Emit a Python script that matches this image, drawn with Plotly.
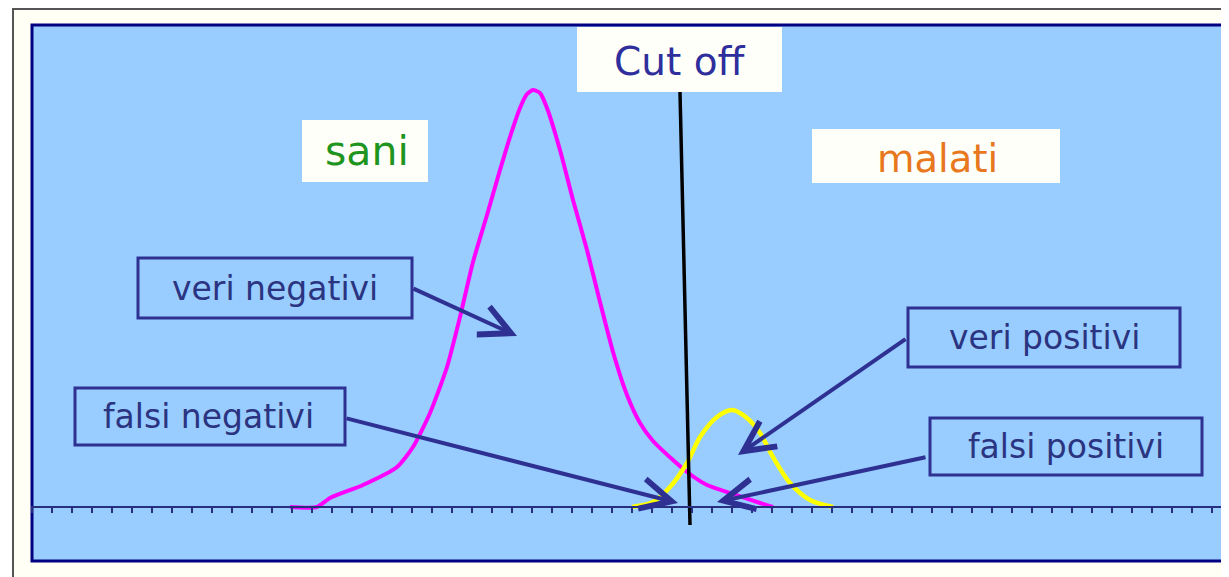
import plotly.graph_objects as go

# page has an 8px body margin; the figure is sized so that it fills the window
OFF = 8
W, H = 1229 - OFF, 577 - OFF

# ---------------- data ----------------
healthy_x = [12.9, 14.25, 14.9, 16.55, 18.25, 19.05, 19.9, 20.75, 21.4, 22.05,
             22.75, 23.4, 23.9, 24.4, 24.75, 25.05, 25.4, 25.75, 26.4, 27.05,
             27.75, 28.4, 29.05, 29.75, 30.4, 31.05, 32.05, 32.75, 33.75, 35.05,
             36.4, 37.05]
healthy_y = [0, 0, 2.25, 5.5, 10, 15, 23.5, 35, 47.5, 61.25,
             73, 84.25, 92.5, 99.75, 103.25, 104.25, 103.5, 99.75, 89.25, 76.75,
             64.25, 51.25, 38.75, 28, 21, 16.5, 11.75, 8.75, 5.5, 3.25,
             1, 0]

sick_x = [30, 31.05, 31.9, 32.75, 33.4, 34.25, 35, 35.75, 36.4, 37.05, 37.9, 38.9, 40.05]
sick_y = [0, 1.25, 5, 11, 17.5, 22.5, 24.25, 22.25, 18.5, 12.5, 6, 1.75, 0]

cutoff_x = [32.4, 32.9]
cutoff_y = [103.75, -4.5]

group_labels = ["sani", "malati"]
outcome_labels = ["veri negativi", "falsi negativi", "veri positivi", "falsi positivi"]
cutoff_label = "Cut off"

# ---------------- helpers (screen pixel -> coordinates) ----------------
X0_PX, PX_PER_X = 32, 20.0
Y0_PX, PX_PER_Y = 507, 4.0


def dx(px):
    return (px - X0_PX) / PX_PER_X


def dy(py):
    return (Y0_PX - py) / PX_PER_Y


def pxp(px):
    return (px - OFF) / W


def pyp(py):
    return 1 - (py - OFF) / H


NAVY = "#2e3192"
TEXT_NAVY = "#2b3480"
FONT = "DejaVu Sans"

fig = go.Figure()

fig.add_trace(go.Scatter(x=healthy_x, y=healthy_y, mode="lines",
                         line=dict(color="#ff00ff", width=4, shape="spline", smoothing=0.6),
                         hoverinfo="skip", showlegend=False))
fig.add_trace(go.Scatter(x=sick_x, y=sick_y, mode="lines",
                         line=dict(color="#ffff00", width=4.5, shape="spline", smoothing=0.8),
                         hoverinfo="skip", showlegend=False))
fig.add_trace(go.Scatter(x=cutoff_x, y=cutoff_y, mode="lines",
                         line=dict(color="#000000", width=3.5),
                         hoverinfo="skip", showlegend=False))
# dummy trace so the tick axis (x2) is drawn
fig.add_trace(go.Scatter(x=[None], y=[None], xaxis="x2", yaxis="y",
                         mode="markers", hoverinfo="skip", showlegend=False))

shapes = []
# outer frame
shapes.append(dict(type="rect", xref="paper", yref="paper",
                   x0=pxp(13), x1=pxp(1240), y0=pyp(590), y1=pyp(9),
                   line=dict(color="#555555", width=2), fillcolor="#fffff6", layer="below"))
# blue panel
shapes.append(dict(type="rect", xref="paper", yref="paper",
                   x0=pxp(32), x1=pxp(1245), y0=pyp(561), y1=pyp(25),
                   line=dict(color="#000080", width=3), fillcolor="#99ccff", layer="below"))

# white boxes
white_boxes = [
    ((577, 27, 782, 92), cutoff_label, (679, 62), 39, "#2e2e9c"),
    ((302, 120, 428, 182), group_labels[0], (367, 151), 41, "#1f951f"),
    ((812, 129, 1060, 183), group_labels[1], (937, 158), 38.5, "#e8781e"),
]
annotations = []
for (x0, y0, x1, y1), txt, (cx, cy), size, col in white_boxes:
    shapes.append(dict(type="rect", xref="paper", yref="paper",
                       x0=pxp(x0), x1=pxp(x1), y0=pyp(y1), y1=pyp(y0),
                       line=dict(width=0), fillcolor="#fffffa", layer="above"))
    annotations.append(dict(x=pxp(cx), y=pyp(cy), xref="paper", yref="paper",
                            text=txt, showarrow=False, xanchor="center", yanchor="middle",
                            font=dict(family=FONT, size=size, color=col)))

# outlined boxes
outline_boxes = [
    ((138, 258, 412, 318), outcome_labels[0], (275, 288)),
    ((75, 388, 345, 445), outcome_labels[1], (208, 416)),
    ((908, 308, 1180, 367), outcome_labels[2], (1044, 337)),
    ((930, 418, 1202, 475), outcome_labels[3], (1066, 446)),
]
for (x0, y0, x1, y1), txt, (cx, cy) in outline_boxes:
    shapes.append(dict(type="rect", xref="paper", yref="paper",
                       x0=pxp(x0), x1=pxp(x1), y0=pyp(y1), y1=pyp(y0),
                       line=dict(width=3, color=NAVY), fillcolor="rgba(0,0,0,0)", layer="above"))
    annotations.append(dict(x=pxp(cx), y=pyp(cy), xref="paper", yref="paper",
                            text=txt, showarrow=False, xanchor="center", yanchor="middle",
                            font=dict(family=FONT, size=33, color=TEXT_NAVY)))

# arrows (tail -> tip), screen pixel positions
arrows = [
    ((412, 288), (517, 336)),
    ((345, 418), (678, 503)),
    ((907, 338), (738, 455)),
    ((927, 457), (717, 502)),
]
for (tx, ty), (hx, hy) in arrows:
    annotations.append(dict(x=dx(hx), y=dy(hy), xref="x", yref="y",
                            ax=dx(tx), ay=dy(ty), axref="x", ayref="y",
                            text="", showarrow=True, arrowhead=5, arrowsize=1.5,
                            arrowwidth=4, arrowcolor=NAVY, standoff=0, startstandoff=0))

fig.update_layout(
    width=W, height=H,
    margin=dict(l=0, r=0, t=0, b=0),
    paper_bgcolor="#ffffff",
    plot_bgcolor="rgba(0,0,0,0)",
    showlegend=False,
    xaxis=dict(range=[dx(OFF), dx(1229)], visible=False, domain=[0, 1], fixedrange=True),
    yaxis=dict(range=[dy(577), dy(OFF)], visible=False, domain=[0, 1], fixedrange=True),
    xaxis2=dict(range=[dx(31), dx(1229)], domain=[pxp(31), 1], anchor="free",
                position=(577 - Y0_PX) / H, showline=True, linecolor="#27307f", linewidth=2,
                ticks="outside", ticklen=5, tickwidth=2, tickcolor="#27307f",
                tickmode="linear", tick0=0, dtick=1, showticklabels=False,
                showgrid=False, zeroline=False, fixedrange=True),
    shapes=shapes,
    annotations=annotations,
)

fig.write_html("out.html", config={"displayModeBar": False})
